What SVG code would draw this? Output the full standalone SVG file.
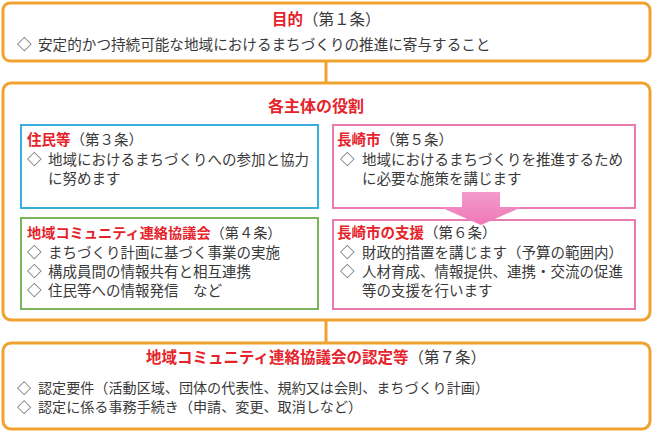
<svg xmlns="http://www.w3.org/2000/svg" width="654" height="432" viewBox="0 0 654 432">
<defs>
<style>
text{font-family:"Noto Sans CJK JP","Noto Sans CJK SC",sans-serif;fill:#3a3a3a;}
.ob{fill:#fff;stroke:#F0A22E;stroke-width:3;}
.blue{fill:#fff;stroke:#3AAEDD;stroke-width:2;}
.green{fill:#fff;stroke:#7AB55C;stroke-width:2;}
.pink{fill:#fff;stroke:#E97BAF;stroke-width:2;}
.red{fill:#E5232B;font-weight:bold;}
.conn{stroke:#F0A22E;stroke-width:3;fill:none;}
.b{font-size:14.5px;}
.t{font-size:15.5px;}
</style>
<linearGradient id="ag" x1="0" y1="0" x2="0" y2="1">
<stop offset="0" stop-color="#F49ACB"/>
<stop offset="1" stop-color="#EE78B8"/>
</linearGradient>
</defs>
<rect width="654" height="432" fill="#fff"/>
<g id="connectors">
<line class="conn" x1="326" y1="62" x2="326" y2="83"/>
<line class="conn" x1="326" y1="320" x2="326" y2="343"/>
</g>
<g id="purpose">
<rect class="ob" x="3" y="3" width="647" height="58" rx="7"/>
<text class="t" x="272" y="25"><tspan class="red">目的</tspan>（第１条）</text>
<text style="font-size:14.6px" y="50"><tspan x="17">◇</tspan><tspan x="38">安定的かつ持続可能な地域におけるまちづくりの推進に寄与すること</tspan></text>
</g>
<g id="roles">
<rect class="ob" x="3" y="83" width="647" height="237" rx="8"/>
<text x="268" y="112" class="red" style="font-size:16px">各主体の役割</text>
</g>
<g id="residents">
<rect class="blue" x="21" y="125" width="297" height="83"/>
<text class="b" x="27" y="145"><tspan class="red">住民等</tspan>（第３条）</text>
<text class="b" y="165"><tspan x="27">◇</tspan><tspan x="48">地域におけるまちづくりへの参加と協力</tspan></text>
<text class="b" x="48" y="184">に努めます</text>
</g>
<g id="council">
<rect class="green" x="21" y="218" width="297" height="91"/>
<text x="27" y="238" style="font-size:14.2px"><tspan class="red">地域コミュニティ連絡協議会</tspan>（第４条）</text>
<text class="b" y="258"><tspan x="27">◇</tspan><tspan x="48">まちづくり計画に基づく事業の実施</tspan></text>
<text class="b" y="277"><tspan x="27">◇</tspan><tspan x="48">構成員間の情報共有と相互連携</tspan></text>
<text class="b" y="296"><tspan x="27">◇</tspan><tspan x="48">住民等への情報発信　など</tspan></text>
</g>
<g id="city">
<rect class="pink" x="333" y="125" width="302" height="83"/>
<text class="b" x="337" y="145"><tspan class="red">長崎市</tspan>（第５条）</text>
<text class="b" y="165"><tspan x="340">◇</tspan><tspan x="362">地域におけるまちづくりを推進するため</tspan></text>
<text class="b" x="362" y="184">に必要な施策を講じます</text>
</g>
<g id="support">
<rect class="pink" x="333" y="220" width="302" height="89"/>
<text class="b" x="337" y="238"><tspan class="red">長崎市の支援</tspan>（第６条）</text>
<text class="b" y="258"><tspan x="340">◇</tspan><tspan x="362">財政的措置を講じます（予算の範囲内）</tspan></text>
<text class="b" y="277"><tspan x="340">◇</tspan><tspan x="362">人材育成、情報提供、連携・交流の促進</tspan></text>
<text class="b" x="362" y="296">等の支援を行います</text>
</g>
<g id="arrow">
<polygon points="462,192 500,192 500,207 522,207 481,225 440,207 462,207" fill="url(#ag)"/>
</g>
<g id="certification">
<rect class="ob" x="3" y="343" width="647" height="86" rx="8"/>
<text class="t" x="146" y="363"><tspan class="red">地域コミュニティ連絡協議会の認定等</tspan>（第７条）</text>
<text style="font-size:14.1px" y="393"><tspan x="17">◇</tspan><tspan x="38">認定要件（活動区域、団体の代表性、規約又は会則、まちづくり計画）</tspan></text>
<text style="font-size:14.1px" y="412"><tspan x="17">◇</tspan><tspan x="38">認定に係る事務手続き（申請、変更、取消しなど）</tspan></text>
</g>
</svg>
